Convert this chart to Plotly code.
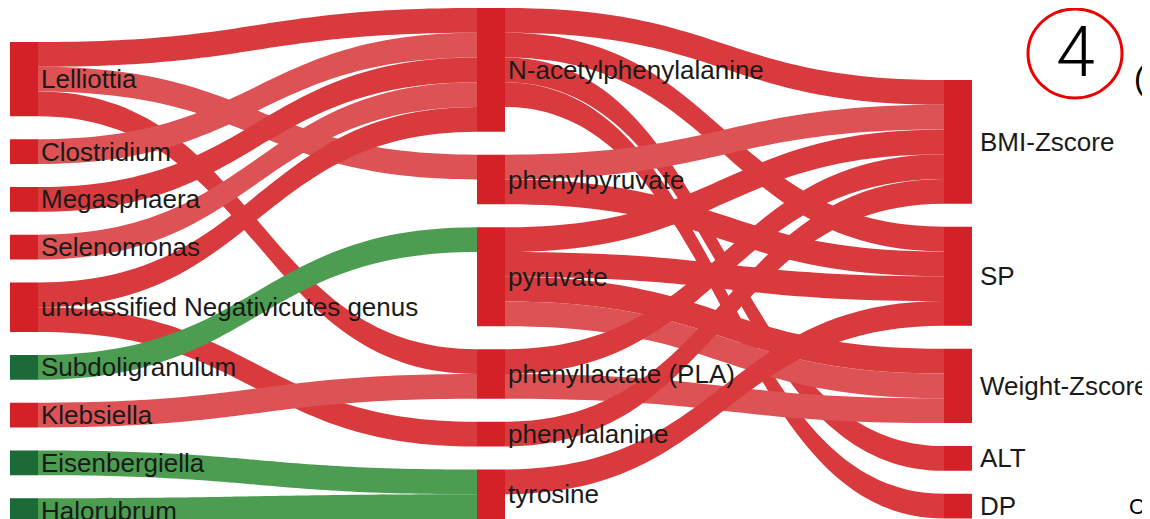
import plotly.graph_objects as go

# ---------------- data ----------------
taxa = ["Lelliottia", "Clostridium", "Megasphaera", "Selenomonas",
        "unclassified Negativicutes genus", "Subdoligranulum", "Klebsiella",
        "Eisenbergiella", "Halorubrum"]
metabolites = ["N-acetylphenylalanine", "phenylpyruvate", "pyruvate",
               "phenyllactate (PLA)", "phenylalanine", "tyrosine"]
phenotypes = ["BMI-Zscore", "SP", "Weight-Zscore", "ALT", "DP"]

# direction of association of each taxon (+ red, - green)
taxa_sign = ["+", "+", "+", "+", "+", "-", "+", "-", "-"]

# taxon -> metabolite links
tm_source = ["Lelliottia", "Lelliottia", "Lelliottia", "Clostridium", "Megasphaera",
             "Selenomonas", "unclassified Negativicutes genus",
             "unclassified Negativicutes genus", "Subdoligranulum", "Klebsiella",
             "Eisenbergiella", "Halorubrum"]
tm_target = ["N-acetylphenylalanine", "phenylpyruvate", "phenyllactate (PLA)",
             "N-acetylphenylalanine", "N-acetylphenylalanine", "N-acetylphenylalanine",
             "N-acetylphenylalanine", "phenylalanine", "pyruvate", "phenyllactate (PLA)",
             "tyrosine", "tyrosine"]
tm_value = [1, 1, 1, 1, 1, 1, 1, 1, 1, 1, 1, 1]
tm_shade = ["d", "l", "d", "l", "d", "l", "d", "d", "g", "l", "g", "g"]

# metabolite -> phenotype links
mp_source = ["N-acetylphenylalanine", "N-acetylphenylalanine", "N-acetylphenylalanine",
             "N-acetylphenylalanine", "phenylpyruvate", "phenylpyruvate",
             "pyruvate", "pyruvate", "pyruvate", "pyruvate",
             "phenyllactate (PLA)", "phenyllactate (PLA)", "phenylalanine", "tyrosine"]
mp_target = ["BMI-Zscore", "SP", "ALT", "DP", "BMI-Zscore", "SP",
             "BMI-Zscore", "SP", "Weight-Zscore", "Weight-Zscore",
             "BMI-Zscore", "Weight-Zscore", "BMI-Zscore", "SP"]
mp_value = [1, 1, 1, 1, 1, 1, 1, 1, 1, 1, 1, 1, 1, 1]
mp_shade = ["d", "d", "d", "d", "l", "d", "d", "d", "d", "l", "d", "l", "d", "d"]

# ---------------- styling / layout constants ----------------
RED_NODE = "rgb(211,33,39)"
GREEN_NODE = "rgb(27,106,56)"
LINK_COL = {"d": "rgb(216,58,62)", "l": "rgb(221,82,84)", "g": "rgb(76,157,82)"}
TEXT_COL = "#1a1a1a"
FONT = "Liberation Sans, Arial, Helvetica, sans-serif"

W, H = 1142, 511            # page adds an 8px body margin
X0, X1 = 2, 964             # sankey horizontal extent (px)
THICK, PAD = 28, 23
COL_TOP = [34, 0, 72]       # top of each column stack (px)

labels = taxa + metabolites + phenotypes
idx = {n: i for i, n in enumerate(labels)}
node_colors = ([RED_NODE if s == "+" else GREEN_NODE for s in taxa_sign]
               + [RED_NODE] * len(metabolites) + [RED_NODE] * len(phenotypes))

all_src = tm_source + mp_source
all_tgt = tm_target + mp_target
all_val = tm_value + mp_value
src = [idx[s] for s in all_src]
tgt = [idx[t] for t in all_tgt]
lcol = [LINK_COL[s] for s in tm_shade + mp_shade]

# node values (max of in/out flow), used to stack the columns in reference order
node_val = {}
for n in labels:
    vin = sum(v for t, v in zip(all_tgt, all_val) if t == n)
    vout = sum(v for s, v in zip(all_src, all_val) if s == n)
    node_val[n] = max(vin, vout)

columns = [taxa, metabolites, phenotypes]
dom_w = X1 - X0
ky = min((H - (len(c) - 1) * PAD) / sum(node_val[n] for n in c) for c in columns)
col_cx = [THICK / 2, dom_w / 2, dom_w - THICK / 2]
node_x, node_y, centers = [0] * len(labels), [0] * len(labels), {}
for ci, col in enumerate(columns):
    y = COL_TOP[ci]
    for n in col:
        h = node_val[n] * ky
        centers[n] = y + h / 2
        node_x[idx[n]] = col_cx[ci] / dom_w
        node_y[idx[n]] = (y + h / 2) / H
        y += h + PAD

# right-column labels are drawn as annotations (to the right of the nodes)
node_labels = [l if l not in phenotypes else "" for l in labels]

fig = go.Figure(go.Sankey(
    arrangement="fixed",
    domain=dict(x=[X0 / W, X1 / W], y=[0, 1]),
    node=dict(label=node_labels, color=node_colors, pad=PAD, thickness=THICK,
              x=node_x, y=node_y, line=dict(width=0)),
    link=dict(source=src, target=tgt, value=all_val, color=lcol),
    textfont=dict(family=FONT, size=26, color=TEXT_COL, shadow="none"),
))

for p in phenotypes:
    fig.add_annotation(text=p, xref="paper", yref="paper",
                       x=(X1 + 6) / W, y=1 - centers[p] / H,
                       xanchor="left", yanchor="middle", showarrow=False,
                       font=dict(family=FONT, size=26, color=TEXT_COL))

# circled panel number and cropped neighbour texts
fig.add_shape(type="circle", xref="paper", yref="paper",
              x0=1020 / W, x1=1114 / W, y0=1 - 90 / H, y1=1 - 1 / H,
              line=dict(color="rgb(236,0,0)", width=3))
fig.add_annotation(text="4", xref="paper", yref="paper", x=1067 / W, y=1 - 44 / H,
                   xanchor="center", yanchor="middle", showarrow=False,
                   font=dict(family="Roboto, Liberation Sans, sans-serif", size=70,
                             weight=300, color="black"))
fig.add_annotation(text="(B", xref="paper", yref="paper", x=1124 / W, y=1 - 70 / H,
                   xanchor="left", yanchor="middle", showarrow=False,
                   font=dict(family=FONT, size=32, color="black"))
fig.add_annotation(text="Cl", xref="paper", yref="paper", x=1119 / W, y=1 - 498 / H,
                   xanchor="left", yanchor="middle", showarrow=False,
                   font=dict(family=FONT, size=22, color="black"))

fig.update_layout(width=W, height=H, margin=dict(l=0, r=0, t=0, b=0),
                  paper_bgcolor="white", plot_bgcolor="white", showlegend=False)
fig.write_html("out.html")
